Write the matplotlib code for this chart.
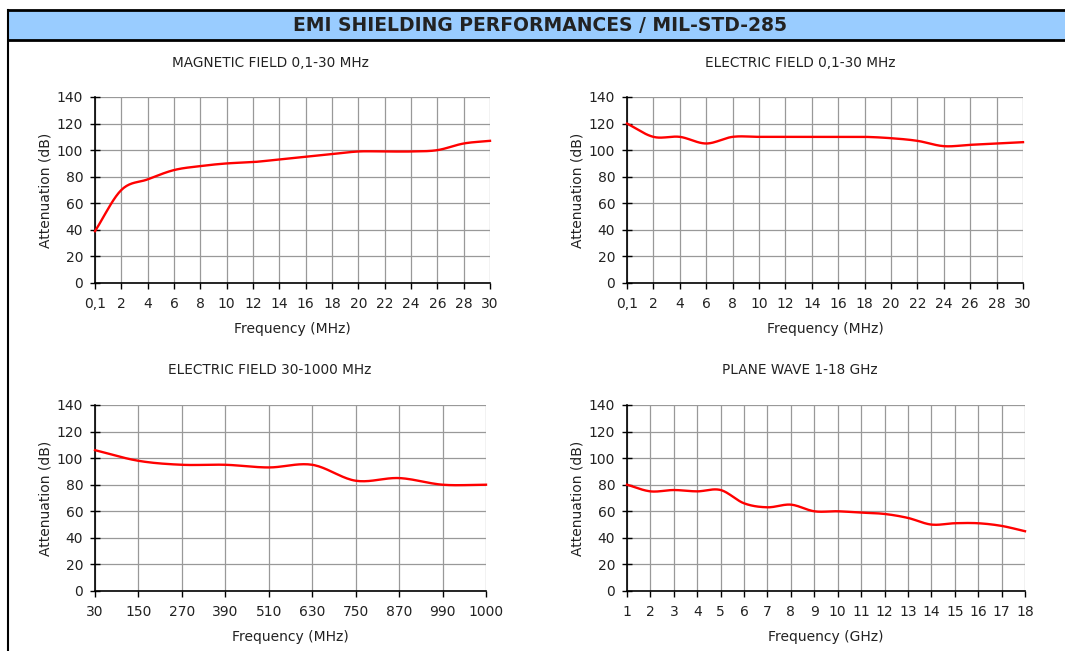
import numpy as np
import matplotlib
matplotlib.use("Agg")
import matplotlib.pyplot as plt
from matplotlib.patches import Rectangle
from matplotlib.lines import Line2D

# ---- data ----
mag_labels = ["0,1", "2", "4", "6", "8", "10", "12", "14", "16", "18", "20", "22", "24", "26", "28", "30"]
mag_values = [39, 70, 78, 85, 88, 90, 91, 93, 95, 97, 99, 99, 99, 100, 105, 107]

elec_labels = ["0,1", "2", "4", "6", "8", "10", "12", "14", "16", "18", "20", "22", "24", "26", "28", "30"]
elec_values = [120, 110, 110, 105, 110, 110, 110, 110, 110, 110, 109, 107, 103, 104, 105, 106]

elec_hf_labels = ["30", "150", "270", "390", "510", "630", "750", "870", "990", "1000"]
elec_hf_values = [106, 98, 95, 95, 93, 95, 83, 85, 80, 80]

pw_labels = [str(i) for i in range(1, 19)]
pw_values = [80, 75, 76, 75, 76, 66, 63, 65, 60, 60, 59, 58, 55, 50, 51, 51, 49, 45]

y_ticks = [0, 20, 40, 60, 80, 100, 120, 140]

W, H = 1065, 651
fig = plt.figure(figsize=(W / 100, H / 100), dpi=100)
TXT = "#222222"


def smooth(x, y, n=20):
    # Catmull-Rom spline through the data points (for a smoothed line rendering)
    x = np.asarray(x, float)
    y = np.asarray(y, float)
    px = np.concatenate([[2 * x[0] - x[1]], x, [2 * x[-1] - x[-2]]])
    py = np.concatenate([[2 * y[0] - y[1]], y, [2 * y[-1] - y[-2]]])
    xs, ys = [], []
    for i in range(1, len(px) - 2):
        t = np.linspace(0, 1, n, endpoint=False)
        for P, out in ((px, xs), (py, ys)):
            p0, p1, p2, p3 = P[i - 1], P[i], P[i + 1], P[i + 2]
            out.extend(0.5 * ((2 * p1) + (-p0 + p2) * t + (2 * p0 - 5 * p1 + 4 * p2 - p3) * t ** 2
                              + (-p0 + 3 * p1 - 3 * p2 + p3) * t ** 3))
    xs.append(x[-1]); ys.append(y[-1])
    return np.array(xs), np.array(ys)


def make_ax(rect_px, labels, values, xlabel, title, title_x, title_y):
    x0, x1, y0, y1 = rect_px
    ax = fig.add_axes([x0 / W, 1 - y1 / H, (x1 - x0) / W, (y1 - y0) / H])
    xs = np.arange(len(labels))
    sx, sy = smooth(xs, values)
    ax.plot(sx, sy, color="#ff0000", lw=1.7, zorder=3, clip_on=False)
    ax.set_xlim(0, len(labels) - 1)
    ax.set_ylim(0, 140)
    ax.set_xticks(xs)
    ax.set_xticklabels(labels)
    ax.set_yticks(y_ticks)
    ax.grid(True, color="#999999", lw=0.9)
    ax.set_axisbelow(True)
    for s in ("top", "right"):
        ax.spines[s].set_visible(False)
    for s in ("left", "bottom"):
        ax.spines[s].set_color("black")
        ax.spines[s].set_linewidth(1.2)
    ax.tick_params(axis="y", direction="inout", length=7, width=1, labelsize=10, pad=5, labelcolor=TXT)
    ax.tick_params(axis="x", direction="out", length=4, width=1, labelsize=10, pad=6, labelcolor=TXT)
    ax.set_xlabel(xlabel, fontsize=10, labelpad=8, color=TXT)
    ax.set_ylabel("Attenuation (dB)", fontsize=10, labelpad=3, color=TXT)
    fig.text(title_x / W, 1 - title_y / H, title, ha="center", va="center", fontsize=9.8, color=TXT)
    return ax


make_ax((95, 490, 97, 283), mag_labels, mag_values, "Frequency (MHz)", "MAGNETIC FIELD 0,1-30 MHz", 270, 63)
make_ax((627, 1023, 97, 283), elec_labels, elec_values, "Frequency (MHz)", "ELECTRIC FIELD 0,1-30 MHz", 800, 63)
make_ax((95, 486, 405, 591), elec_hf_labels, elec_hf_values, "Frequency (MHz)", "ELECTRIC FIELD 30-1000 MHz", 270, 370)
make_ax((627, 1025, 405, 591), pw_labels, pw_values, "Frequency (GHz)", "PLANE WAVE 1-18 GHz", 800, 370)

# title bar
fig.patches.append(Rectangle((8 / W, 1 - 40 / H), 1 - 8 / W, 30 / H, transform=fig.transFigure,
                             facecolor="#99ccff", edgecolor="none", zorder=0))
fig.lines.append(Line2D([8 / W, 1], [1 - 10 / H, 1 - 10 / H], transform=fig.transFigure, color="black", lw=2))
fig.lines.append(Line2D([8 / W, 1], [1 - 40 / H, 1 - 40 / H], transform=fig.transFigure, color="black", lw=2))
fig.lines.append(Line2D([8 / W, 8 / W], [0, 1 - 10 / H], transform=fig.transFigure, color="black", lw=1.5))
fig.text(540 / W, 1 - 25.5 / H, "EMI SHIELDING PERFORMANCES / MIL-STD-285", ha="center", va="center",
         fontsize=13.5, fontweight="bold", color=TXT)

fig.savefig("out.png", dpi=100)
